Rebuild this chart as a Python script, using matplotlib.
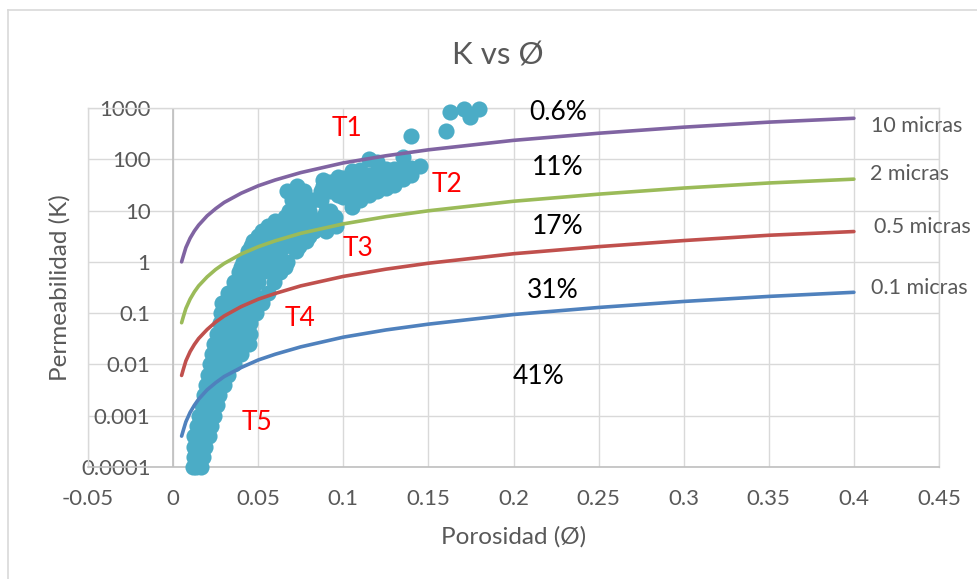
"""
K vs porosity chart with pore throat radius curves.
"""

import matplotlib
matplotlib.use('Agg')
import matplotlib.pyplot as plt
from matplotlib.lines import Line2D

# Curves for each pore throat radius
curve_phi = [0.005, 0.006, 0.0075, 0.01, 0.0125, 0.015, 0.02, 0.025, 0.03, 0.04, 0.05,
             0.06, 0.075, 0.1, 0.125, 0.15, 0.2, 0.25, 0.3, 0.35, 0.4]
k_10 = [1.0, 1.3, 1.9, 2.9, 4.0, 5.2, 7.9, 10.9, 14.4, 21.8, 30.4,
        39.5, 55, 85, 117, 153, 234, 322, 423, 530, 630]
k_2 = [0.065, 0.085, 0.123, 0.188, 0.26, 0.34, 0.51, 0.71, 0.93, 1.42, 1.97,
       2.57, 3.6, 5.5, 7.6, 9.9, 15.2, 20.9, 27.5, 34.5, 41]
k_05 = [0.0061, 0.008, 0.0117, 0.0178, 0.0245, 0.032, 0.048, 0.067, 0.088, 0.134, 0.187,
        0.242, 0.34, 0.52, 0.72, 0.94, 1.44, 1.98, 2.6, 3.3, 3.9]
k_01 = [0.0004, 0.00052, 0.00076, 0.00116, 0.0016, 0.0021, 0.0032, 0.0044, 0.0058, 0.0087, 0.0122,
        0.0158, 0.022, 0.034, 0.047, 0.061, 0.094, 0.129, 0.169, 0.212, 0.255]

# Core samples: main band, one row of porosities per K level
band_k = [0.0001, 0.00016, 0.00025, 0.0004, 0.00063, 0.001, 0.0016, 0.0025, 0.004,
          0.0063, 0.01, 0.016, 0.025, 0.04, 0.063, 0.1, 0.16, 0.25, 0.4, 0.63, 0.8,
          1, 1.6, 2, 2.5, 3.2, 4, 5, 6.3, 7.5, 10, 16, 24, 30, 40]
band_phi = [
    [0.0114, 0.0137, 0.0161],
    [0.012, 0.0145, 0.0175],
    [0.0122, 0.0155, 0.019],
    [0.0125, 0.0165, 0.0208],
    [0.014, 0.018, 0.0225],
    [0.0155, 0.02, 0.0243],
    [0.017, 0.021, 0.0255],
    [0.018, 0.0225, 0.027],
    [0.0195, 0.025, 0.03],
    [0.0205, 0.0265, 0.0325],
    [0.0214, 0.0285, 0.0355],
    [0.0226, 0.028, 0.034, 0.04],
    [0.0243, 0.031, 0.038, 0.0445],
    [0.026, 0.032, 0.039, 0.045],
    [0.0273, 0.033, 0.039, 0.045],
    [0.0284, 0.035, 0.042, 0.049],
    [0.029, 0.036, 0.044, 0.0525],
    [0.032, 0.039, 0.047, 0.056],
    [0.036, 0.042, 0.05, 0.059],
    [0.039, 0.045, 0.052, 0.058, 0.063],
    [0.04, 0.05, 0.056, 0.062, 0.066],
    [0.041, 0.047, 0.054, 0.061, 0.067],
    [0.044, 0.05, 0.056, 0.063, 0.0725],
    [0.046, 0.05, 0.058, 0.066, 0.074],
    [0.047, 0.054, 0.061, 0.07, 0.078],
    [0.05, 0.056, 0.064, 0.072, 0.08],
    [0.052, 0.059, 0.066, 0.074, 0.083, 0.09],
    [0.056, 0.064, 0.072, 0.08, 0.088, 0.096],
    [0.06, 0.067, 0.074, 0.081, 0.087, 0.092],
    [0.066, 0.073, 0.08, 0.088, 0.095],
    [0.068, 0.074, 0.08, 0.09, 0.092],
    [0.07, 0.076, 0.082, 0.087],
    [0.0672, 0.072, 0.0772, 0.087, 0.0878],
    [0.073, 0.0878],
    [0.0878],
]

# Upper band, one row of K values per porosity
upper_phi = [0.092, 0.097, 0.1, 0.105, 0.11, 0.115, 0.12, 0.125, 0.13, 0.135, 0.14, 0.1448]
upper_k = [
    [24, 36],
    [20, 32, 46],
    [18, 28, 44],
    [12, 18, 28, 44, 58],
    [16, 26, 40, 62],
    [20, 32, 50, 100],
    [24, 38, 60, 90],
    [28, 42, 66],
    [32, 48, 66],
    [42, 62, 110],
    [50, 68],
    [74],
]

# The few samples on the top right
top_phi = [0.1395, 0.1606, 0.1624, 0.171, 0.1747, 0.18]
top_k = [282, 355, 832, 955, 660, 955]

x_ticks = [-0.05, 0, 0.05, 0.1, 0.15, 0.2, 0.25, 0.3, 0.35, 0.4, 0.45]
x_tick_labels = ['-0.05', '0', '0.05', '0.1', '0.15', '0.2', '0.25', '0.3', '0.35', '0.4', '0.45']
y_ticks = [0.0001, 0.001, 0.01, 0.1, 1, 10, 100, 1000]
y_tick_labels = ['0.0001', '0.001', '0.01', '0.1', '1', '10', '100', '1000']

WIDTH, HEIGHT = 977, 579
GREY_TEXT = '#595959'
GRID = '#D9D9D9'


def put_text(fig, px, py, text, **kwargs):
    """Place a text by its centre, in pixels of the picture."""
    fig.text(px / WIDTH, 1 - py / HEIGHT, text, ha='center', va='center', **kwargs)


def collect_samples():
    """Flatten the sample rows into two lists for the scatter."""
    phi, k = list(top_phi), list(top_k)
    for level, row in zip(band_k, band_phi):
        phi.extend(row)
        k.extend([level] * len(row))
    for value, row in zip(upper_phi, upper_k):
        phi.extend([value] * len(row))
        k.extend(row)
    return phi, k


def main():
    plt.rcParams['font.family'] = ['Lato', 'DejaVu Sans']

    fig = plt.figure(figsize=(WIDTH / 100, HEIGHT / 100), dpi=100)
    ax = fig.add_axes([88 / WIDTH, 1 - 467 / HEIGHT, (939 - 88) / WIDTH, (467 - 108) / HEIGHT])

    ax.set_yscale('log')
    ax.set_xlim(-0.05, 0.45)
    ax.set_ylim(0.0001, 1000)
    ax.set_xticks(x_ticks)
    ax.set_xticklabels(x_tick_labels)
    ax.set_yticks(y_ticks)
    ax.set_yticklabels(y_tick_labels)
    ax.minorticks_off()
    ax.tick_params(length=0, labelsize=16, labelcolor=GREY_TEXT)
    ax.tick_params(axis='y', pad=-45)
    ax.tick_params(axis='x', pad=16)
    ax.grid(True, color=GRID, linewidth=1.0)
    ax.set_axisbelow(True)
    for side in ['top', 'left', 'right']:
        ax.spines[side].set_color(GRID)
        ax.spines[side].set_linewidth(1.0)
    ax.spines['bottom'].set_color('#BFBFBF')
    ax.spines['bottom'].set_linewidth(1.2)
    ax.axvline(0, color='#BFBFBF', linewidth=1.2, zorder=1)

    sample_phi, sample_k = collect_samples()
    ax.scatter(sample_phi, sample_k, s=135, color='#4BACC6', linewidths=0,
               clip_on=False, zorder=3)

    for values, color in [(k_10, '#8064A2'), (k_2, '#9BBB59'), (k_05, '#C0504D'), (k_01, '#4F81BD')]:
        ax.plot(curve_phi, values, color=color, linewidth=2.6,
                solid_capstyle='round', solid_joinstyle='round', zorder=4)

    # Outer chart frame, cut by the picture on the right and bottom
    fig.add_artist(Line2D([8 / WIDTH, 8 / WIDTH], [0, 1 - 10 / HEIGHT], color=GRID, linewidth=1.2))
    fig.add_artist(Line2D([8 / WIDTH, 1], [1 - 10 / HEIGHT, 1 - 10 / HEIGHT], color=GRID, linewidth=1.2))

    put_text(fig, 498, 55, 'K vs Ø', fontsize=22.5, color=GREY_TEXT)
    put_text(fig, 514, 537, 'Porosidad (Ø)', fontsize=17.5, color=GREY_TEXT)
    put_text(fig, 60, 288, 'Permeabilidad (K)', fontsize=17.5, color=GREY_TEXT, rotation=90)

    for px, py, name in [(347, 128, 'T1'), (447, 184, 'T2'), (358, 248, 'T3'),
                         (300, 319, 'T4'), (257, 423, 'T5')]:
        put_text(fig, px, py, name, fontsize=19, color='#FF0000')

    for px, py, share in [(558, 113, '0.6%'), (558, 167, '11%'), (558, 226, '17%'),
                          (553, 291, '31%'), (539, 376, '41%')]:
        put_text(fig, px, py, share, fontsize=19, color='black')

    for px, py, name in [(917, 126, '10 micras'), (910, 174, '2 micras'),
                         (922, 227, '0.5 micras'), (919, 288, '0.1 micras')]:
        put_text(fig, px, py, name, fontsize=15.5, color=GREY_TEXT)

    fig.savefig('out.png', dpi=100, facecolor='white')
    plt.close(fig)


if __name__ == "__main__":
    main()
